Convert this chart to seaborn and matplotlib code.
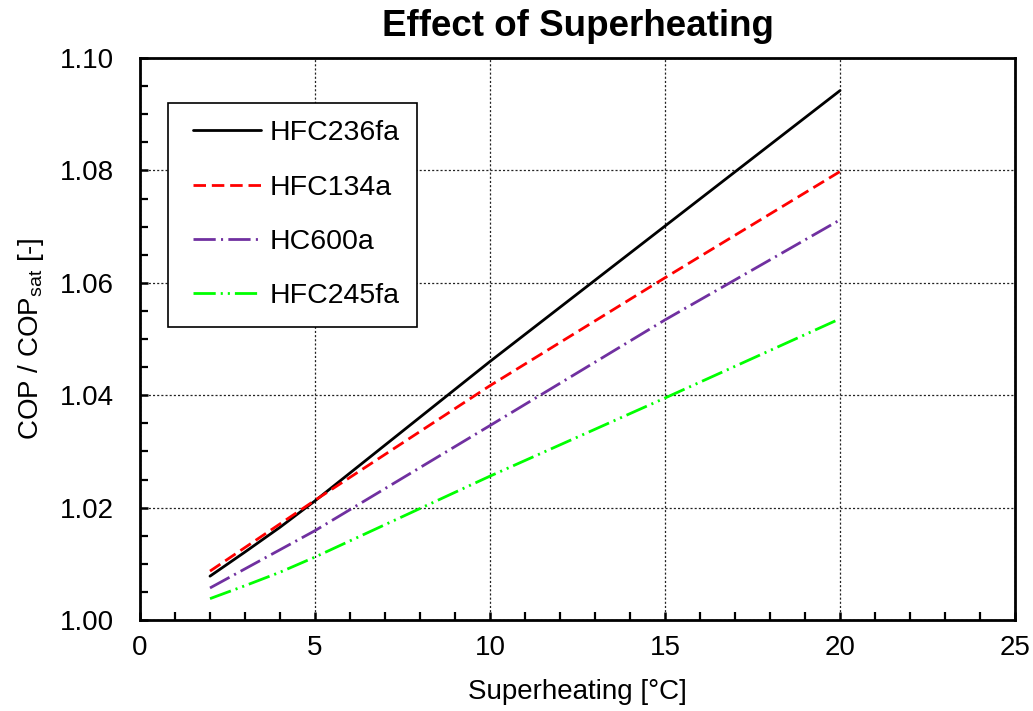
import matplotlib
matplotlib.use("Agg")
import matplotlib.pyplot as plt
import seaborn as sns
import pandas as pd
from matplotlib.lines import Line2D
from matplotlib.legend_handler import HandlerLine2D
from matplotlib.ticker import MultipleLocator, FormatStrFormatter

# ---- data ----
superheat = [2, 3, 4, 5, 10, 15, 20]
hfc236fa = [1.0078, 1.0121, 1.0165, 1.0212, 1.0460, 1.0701, 1.0942]
hfc134a = [1.0087, 1.0129, 1.0171, 1.0213, 1.0417, 1.0609, 1.0798]
hc600a = [1.0057, 1.0091, 1.0125, 1.0159, 1.0346, 1.0534, 1.0712]
hfc245fa = [1.0038, 1.0061, 1.0085, 1.0112, 1.0256, 1.0395, 1.0536]
series_names = ["HFC236fa", "HFC134a", "HC600a", "HFC245fa"]

title = "Effect of Superheating"
xlabel = "Superheating [°C]"
ylabel = r"COP / COP$_{\mathrm{sat}}$ [-]"

sns.set_style("white")
plt.rcParams["font.family"] = ["Liberation Sans", "DejaVu Sans"]
plt.rcParams["mathtext.fontset"] = "custom"
plt.rcParams["mathtext.rm"] = "Liberation Sans"
plt.rcParams["mathtext.it"] = "Liberation Sans:italic"
plt.rcParams["mathtext.bf"] = "Liberation Sans:bold"
plt.rcParams["lines.scale_dashes"] = False
for k in ["text.color", "axes.labelcolor", "xtick.color", "ytick.color"]:
    plt.rcParams[k] = "black"

df = pd.DataFrame({
    "x": superheat * 4,
    "y": hfc236fa + hfc134a + hc600a + hfc245fa,
    "series": sum([[n] * len(superheat) for n in series_names], []),
})

colors = {"HFC236fa": "#000000", "HFC134a": "#FF0000",
          "HC600a": "#7030A0", "HFC245fa": "#00FF00"}
dashes = {"HFC236fa": "",
          "HFC134a": (9.0, 4.2),
          "HC600a": (16.0, 3.8, 1.5, 3.8),
          "HFC245fa": (16.0, 3.6, 1.5, 3.6, 1.5, 3.6)}

fig = plt.figure(figsize=(10.33, 7.11), dpi=100)
ax = fig.add_axes([140 / 1033, 1 - 620 / 711, 875 / 1033, 562 / 711])

sns.lineplot(data=df, x="x", y="y", hue="series", style="series",
             palette=colors, dashes=dashes, hue_order=series_names,
             style_order=series_names, linewidth=2.0, ax=ax, legend=True)

ax.set_xlim(0, 25)
ax.set_ylim(1.00, 1.10)
ax.xaxis.set_major_locator(MultipleLocator(5))
ax.xaxis.set_minor_locator(MultipleLocator(1))
ax.yaxis.set_major_locator(MultipleLocator(0.02))
ax.yaxis.set_minor_locator(MultipleLocator(0.005))
ax.yaxis.set_major_formatter(FormatStrFormatter("%.2f"))

ax.grid(True, which="major", color="#222222", linestyle=(0, (1.5, 1.5)), linewidth=0.9)
ax.set_axisbelow(True)

for s in ax.spines.values():
    s.set_visible(True)
    s.set_color("black")
    s.set_linewidth(2.0)

ax.tick_params(axis="both", which="major", direction="in", length=6, width=1.8,
               labelsize=20, top=False, right=False, bottom=True, left=True)
ax.tick_params(axis="x", which="major", pad=11)
ax.tick_params(axis="y", which="major", pad=19)
ax.tick_params(axis="both", which="minor", direction="in", length=6, width=1.6,
               top=False, right=False, bottom=True, left=True)

ax.set_xlabel(xlabel, fontsize=20, labelpad=13)
ax.set_ylabel(ylabel, fontsize=20, labelpad=10)
ax.set_title(title, fontsize=26.5, fontweight="bold", pad=16)

handles, labels = ax.get_legend_handles_labels()
leg = ax.legend(handles, labels, loc="upper left", bbox_to_anchor=(0.032, 0.92),
                fontsize=20.5, frameon=True, fancybox=False, edgecolor="black",
                framealpha=1, handlelength=2.68, labelspacing=1.0, borderpad=0.6,
                handletextpad=0.3, borderaxespad=0,
                handler_map={Line2D: HandlerLine2D(xpad=0.28)})
leg.get_frame().set_linewidth(1.2)

fig.savefig("out.png", dpi=100)
